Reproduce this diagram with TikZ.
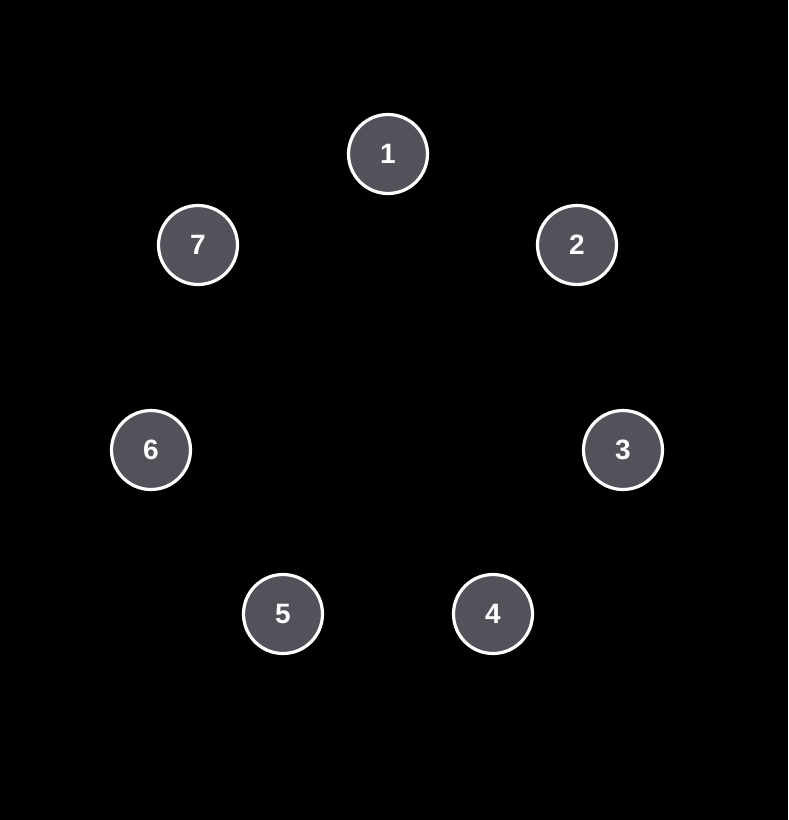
\documentclass[tikz,border=0pt]{standalone}
\usepackage{fontspec}
\setsansfont{Liberation Sans}
\definecolor{nodegray}{HTML}{52525B}
\begin{document}
\begin{tikzpicture}[
  x=1pt, y=-1pt, font=\sffamily\bfseries\fontsize{28}{32}\selectfont,
  num/.style={circle, draw=white, line width=3.2pt, fill=nodegray, text=white,
    minimum size=79pt, inner sep=0pt},
]
% background and frame
\fill[black] (0,0) rectangle (788,820);
\useasboundingbox (0,0) rectangle (788,820);
% the seven numbered nodes
\node[num] (n1) at (388,154) {1};
\node[num] (n2) at (577,245) {2};
\node[num] (n3) at (623,450) {3};
\node[num] (n4) at (493,614) {4};
\node[num] (n5) at (283,614) {5};
\node[num] (n6) at (151,450) {6};
\node[num] (n7) at (198,245) {7};
\end{tikzpicture}
\end{document}
